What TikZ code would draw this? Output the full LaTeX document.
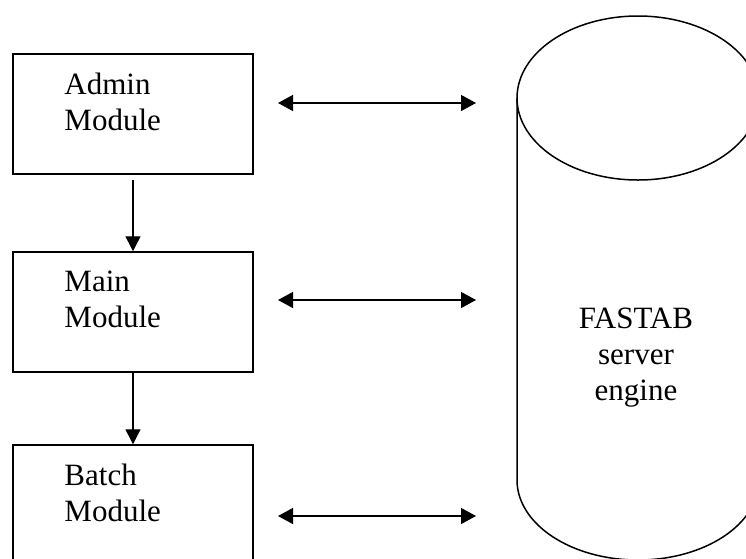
\documentclass[tikz,border=0pt]{standalone}
\usepackage{fontspec}
\setmainfont{Liberation Serif}
\usetikzlibrary{positioning,arrows.meta}
\tikzset{modbox/.style={draw, line width=1.5pt, minimum width=240pt, minimum height=120pt, inner sep=0pt},
         modtext/.style={inner sep=0pt, align=left, font=\fontsize{31}{36}\selectfont},
         flow/.style={line width=1.4pt, -{Triangle[length=15pt,width=15pt]}},
         link/.style={line width=1.4pt, {Triangle[length=15pt,width=16pt]}-{Triangle[length=15pt,width=16pt]}},
         dbline/.style={line width=1.5pt}}

\begin{document}
\begin{tikzpicture}[x=1pt,y=-1pt]
	\useasboundingbox (0,0) rectangle (746,558);
	\node[modbox] (admin) at (133,114) {};
	\node[modbox] (main) at (133,312) {};
	\node[modbox] (batch) at (133,505) {};
	\node[modtext, below right=20pt and 52pt of admin.north west] (admintext) {Admin\\Module};
	\node[modtext, below right=20pt and 52pt of main.north west] (maintext) {Main\\Module};
	\node[modtext, below right=20pt and 52pt of batch.north west] (batchtext) {Batch\\Module};
	\draw[flow, shorten <=5pt] (admin.south) -- (main.north);
	\draw[flow] (main.south) -- (batch.north);
	% the database drum, right side runs off the page
	\draw[dbline] (638,98) ellipse [x radius=121pt, y radius=82pt];
	\draw[dbline] (517,98) -- (517,480) arc[start angle=180, end angle=360, x radius=121pt, y radius=80pt] -- (759,98);
	\node[inner sep=0pt, align=center, anchor=north, font=\fontsize{31}{36}\selectfont] (engine) at (636,308) {FASTAB\\server\\engine};
	\coordinate (adminl) at (278,103);
	\coordinate (adminr) at (476,103);
	\coordinate (mainl) at (278,300);
	\coordinate (mainr) at (476,300);
	\coordinate (batchl) at (278,516);
	\coordinate (batchr) at (476,516);
	\draw[link] (adminl) -- (adminr);
	\draw[link] (mainl) -- (mainr);
	\draw[link] (batchl) -- (batchr);
\end{tikzpicture}
\end{document}
